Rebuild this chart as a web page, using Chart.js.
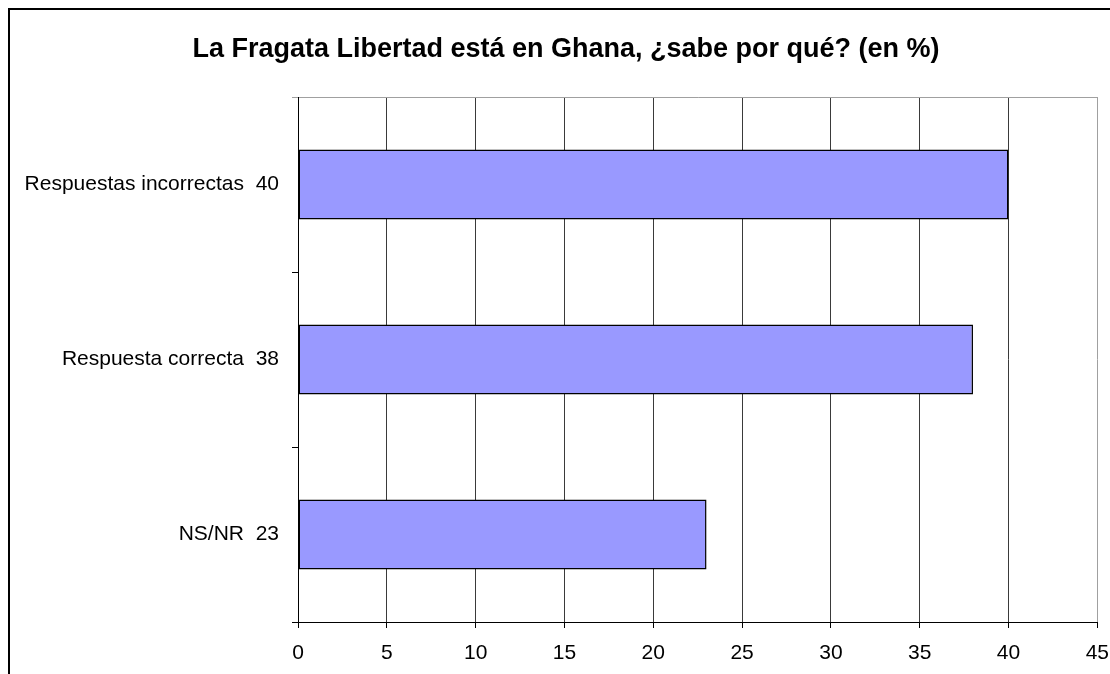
<!DOCTYPE html>
<html>
<head>
<meta charset="utf-8">
<script src="https://cdn.jsdelivr.net/npm/chart.js@4/dist/chart.umd.min.js"></script>
<style>
  html, body { margin: 0; padding: 0; background: #fff; overflow: hidden; width: 1110px; height: 674px; }
  #box { position: absolute; left: 8px; top: 8px; border-left: 2px solid #000; border-top: 2px solid #000; width: 1112px; height: 680px; background: #fff; }
  canvas { display: block; }
</style>
</head>
<body>
<div id="box"><canvas id="c" width="1112" height="664"></canvas></div>
<script>
const titleText = 'La Fragata Libertad está en Ghana, ¿sabe por qué? (en %)';
const categories = ['Respuestas incorrectas', 'Respuesta correcta', 'NS/NR'];
const values = [40, 38, 23];
const xTicks = [0, 5, 10, 15, 20, 25, 30, 35, 40, 45];

const labels = categories.map((c, i) => c + '  ' + values[i]);
const FONT = "'Liberation Sans', Arial, sans-serif";

// Center the title across the full chart box (not just left of the right padding)
const titleSpan = {
  id: 'titleSpan',
  afterLayout(chart) {
    if (chart.titleBlock) {
      chart.titleBlock.left = 0;
      chart.titleBlock.right = chart.width;
    }
  }
};

new Chart(document.getElementById('c'), {
  type: 'bar',
  data: {
    labels: labels,
    datasets: [{
      data: values,
      backgroundColor: '#9999FF',
      borderColor: '#000000',
      borderWidth: 1.5,
      borderSkipped: false,
      barPercentage: 0.4,
      categoryPercentage: 1.0
    }]
  },
  plugins: [titleSpan],
  options: {
    indexAxis: 'y',
    responsive: false,
    animation: false,
    devicePixelRatio: 1,
    layout: { padding: { left: 0, right: 24, top: 0, bottom: 0 } },
    plugins: {
      legend: { display: false },
      tooltip: { enabled: false },
      title: {
        display: true,
        text: titleText,
        color: '#000',
        font: { family: FONT, size: 27, weight: 'bold' },
        padding: { top: 23, bottom: 31.6 }
      }
    },
    scales: {
      x: {
        type: 'linear',
        min: xTicks[0],
        max: xTicks[xTicks.length - 1],
        afterBuildTicks: (scale) => { scale.ticks = xTicks.map(v => ({ value: v })); },
        afterFit: (scale) => { scale.height = 52; },
        ticks: { color: '#000', font: { family: FONT, size: 21 }, padding: 13, maxRotation: 0, autoSkip: false },
        grid: {
          color: (ctx) => (ctx.tick && ctx.tick.value === 45) ? '#a0a0a0' : '#3a3a3a',
          tickColor: '#000',
          tickLength: 6,
          lineWidth: 1
        },
        border: { display: true, color: '#000', width: 1 }
      },
      y: {
        type: 'category',
        afterFit: (scale) => { scale.width = 288; },
        ticks: { color: '#000', font: { family: FONT, size: 21 }, padding: 13 },
        grid: {
          offset: true,
          color: (ctx) => ctx.index === 0 ? '#a0a0a0' : 'rgba(0,0,0,0)',
          tickColor: (ctx) => ctx.index === 0 ? '#a0a0a0' : '#000',
          tickLength: 6,
          lineWidth: 1
        },
        border: { display: true, color: '#000', width: 1 }
      }
    }
  }
});
</script>
</body>
</html>
